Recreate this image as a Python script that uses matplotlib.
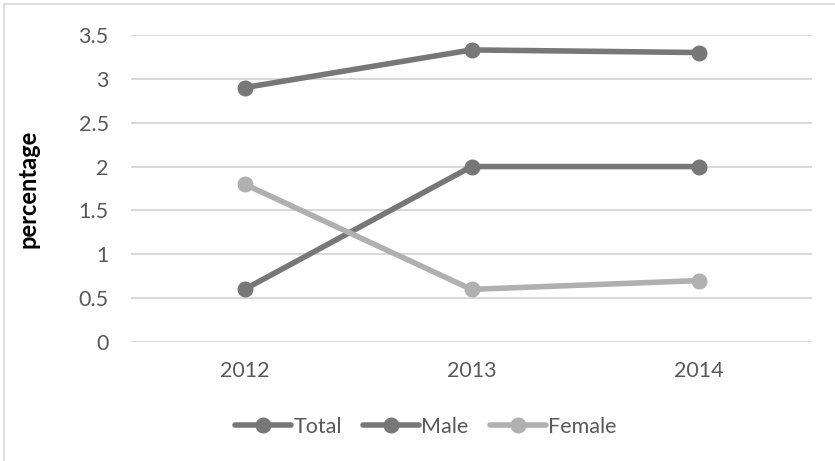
import matplotlib.pyplot as plt
from matplotlib.lines import Line2D

years = ["2012", "2013", "2014"]
total = [2.9, 3.33, 3.3]
male = [0.6, 2.0, 2.0]
female = [1.8, 0.6, 0.7]

plt.rcParams['font.family'] = ['Lato', 'DejaVu Sans']

fig = plt.figure(figsize=(8.35, 4.61), dpi=100)
ax = fig.add_axes([131 / 835, 1 - 342 / 461, (812 - 131) / 835, (342 - 35) / 461])

x = range(len(years))
ax.plot(x, total, color='#777777', lw=4, marker='o', ms=10.5, label='Total', solid_capstyle='round')
ax.plot(x, male, color='#777777', lw=4, marker='o', ms=10.5, label='Male', solid_capstyle='round')
ax.plot(x, female, color='#b0b0b0', lw=4, marker='o', ms=10.5, label='Female', solid_capstyle='round')

ax.set_xlim(-0.5, 2.5)
ax.set_ylim(0, 3.5)
ax.set_yticks([0, 0.5, 1, 1.5, 2, 2.5, 3, 3.5])
ax.set_yticklabels(['0', '0.5', '1', '1.5', '2', '2.5', '3', '3.5'])
ax.set_xticks(list(x))
ax.set_xticklabels(years)
ax.grid(axis='y', color='#d9d9d9', lw=1.5)
ax.set_axisbelow(True)
for s in ax.spines.values():
    s.set_visible(False)
ax.tick_params(length=0, labelsize=15.5, labelcolor='#595959')
ax.tick_params(axis='y', pad=16)
ax.tick_params(axis='x', pad=14)
ax.set_ylabel('percentage', fontsize=17, fontweight='bold', color='black')
ax.yaxis.set_label_coords(-0.135, 0.5)

fig.legend(*ax.get_legend_handles_labels(), loc='center', bbox_to_anchor=(426 / 835, 1 - 427 / 461),
           ncol=3, frameon=False, fontsize=15.5, labelcolor='#595959',
           handlelength=2.6, handletextpad=0.1, columnspacing=1.0)

# light outer border (left and top)
fig.add_artist(Line2D([4 / 835, 4 / 835], [0, 1 - 4 / 461], color='#d9d9d9', lw=1.2))
fig.add_artist(Line2D([4 / 835, 1], [1 - 4 / 461, 1 - 4 / 461], color='#d9d9d9', lw=1.2))

fig.savefig('out.png', dpi=100)
